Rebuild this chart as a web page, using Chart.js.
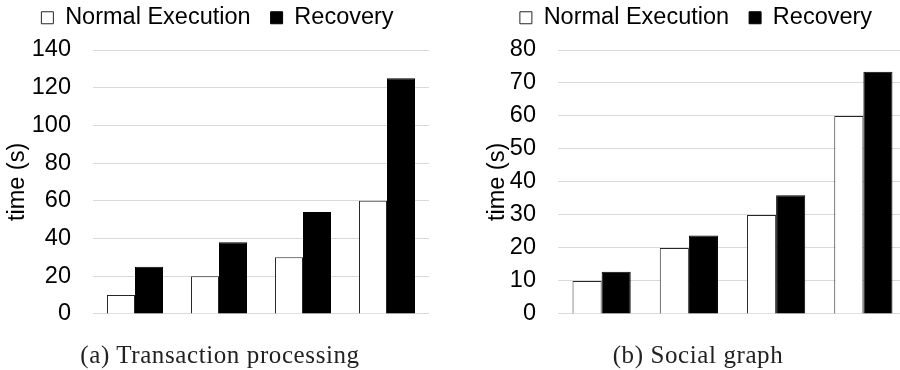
<!DOCTYPE html>
<html>
<head>
<meta charset="utf-8">
<script src="https://cdn.jsdelivr.net/npm/chart.js@4.4.1/dist/chart.umd.min.js"></script>
<style>
  html, body { margin: 0; padding: 0; background: #fff; }
  #page { position: relative; width: 900px; height: 370px; overflow: hidden; }
  canvas { position: absolute; }
  #txChart { left: 0; top: -14px; }
  #sgChart { left: 450px; top: -14px; }
  .caption {
    position: absolute; top: 340px; height: 30px; line-height: 30px;
    font-family: "Liberation Serif", serif; font-size: 25px; letter-spacing: 0.6px;
    color: #222; text-align: center; white-space: nowrap;
  }
  #capA { left: 20px; width: 400px; }
  #capB { left: 498px; width: 400px; }
</style>
</head>
<body>
<div id="page">
  <canvas id="txChart" width="436" height="364"></canvas>
  <canvas id="sgChart" width="492" height="364"></canvas>
  <div class="caption" id="capA">(a) Transaction processing</div>
  <div class="caption" id="capB">(b) Social graph</div>
</div>
<script>
// series names and category slots (4 workload sizes, unlabeled)
const seriesNames = ["Normal Execution", "Recovery"];
const categories = ["1", "2", "3", "4"];

// (a) transaction processing, seconds
const txNormal = [10, 20, 30, 60];
const txRecovery = [25, 38, 54, 125];
const txTicks = { min: 0, max: 140, step: 20 };

// (b) social graph, seconds
const sgNormal = [10, 20, 30, 60];
const sgRecovery = [12.8, 23.8, 36, 73.4];
const sgTicks = { min: 0, max: 80, step: 10 };

const FONT = "'Liberation Sans', Arial, sans-serif";

function makeChart(id, normal, recovery, ticks, box) {
    const ctx = document.getElementById(id).getContext("2d");
    return new Chart(ctx, {
        type: "bar",
        data: {
            labels: categories,
            datasets: [{
                label: seriesNames[0],
                data: normal,
                backgroundColor: "#ffffff",
                borderColor: "#262626",
                borderWidth: 1
            }, {
                label: seriesNames[1],
                data: recovery,
                backgroundColor: "#000000",
                borderColor: "#000000",
                borderWidth: 1
            }]
        },
        options: {
            responsive: false,
            animation: false,
            devicePixelRatio: 1,
            layout: { padding: { left: box.padLeft, right: box.padRight, top: 0, bottom: 18 } },
            datasets: { bar: { categoryPercentage: 0.667, barPercentage: 1 } },
            plugins: {
                tooltip: { enabled: false },
                legend: {
                    position: "top",
                    weight: 3000,
                    labels: {
                        color: "#000",
                        font: { family: FONT, size: 23.5 },
                        boxWidth: 12,
                        boxHeight: 12,
                        padding: 20
                    }
                },
                // empty title used as a spacer between legend and plot
                title: {
                    display: true,
                    text: "",
                    font: { size: 1 },
                    padding: { top: 0, bottom: 9.3 }
                }
            },
            scales: {
                x: { display: false },
                y: {
                    min: ticks.min,
                    max: ticks.max,
                    border: { display: false },
                    grid: { color: "#d9d9d9", lineWidth: 1, drawTicks: false },
                    ticks: {
                        stepSize: ticks.step,
                        padding: 22,
                        color: "#000",
                        font: { family: FONT, size: 23.5 }
                    },
                    title: {
                        display: true,
                        text: "time (s)",
                        color: "#000",
                        padding: { top: box.titlePad, bottom: 0 },
                        font: { family: FONT, size: 23.5 }
                    },
                    afterFit: scale => { scale.width = box.axisWidth; }
                }
            }
        }
    });
}

makeChart("txChart", txNormal, txRecovery, txTicks,
    { padLeft: 6, padRight: 7, axisWidth: 87, titlePad: -3 });
makeChart("sgChart", sgNormal, sgRecovery, sgTicks,
    { padLeft: 35, padRight: 35, axisWidth: 73, titlePad: -2 });
</script>
</body>
</html>
